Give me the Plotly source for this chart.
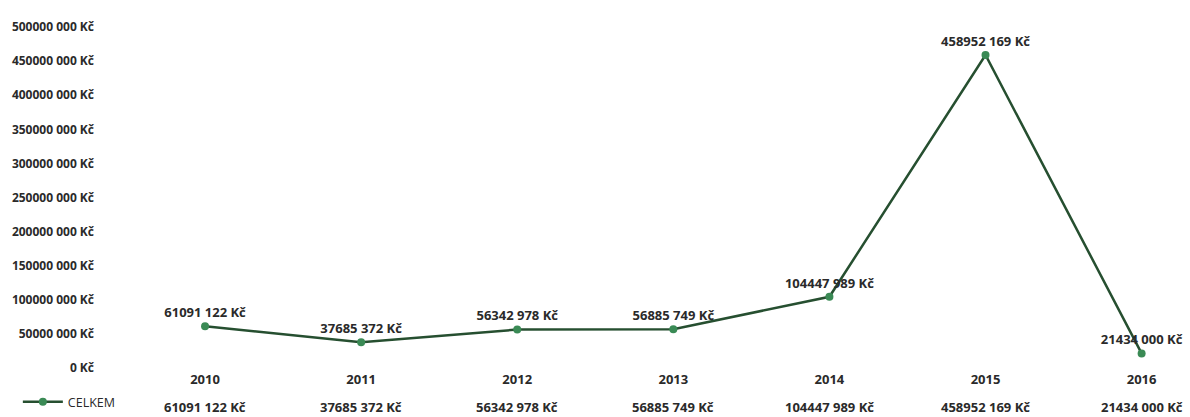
import plotly.graph_objects as go

years = ["2010", "2011", "2012", "2013", "2014", "2015", "2016"]
values = [61091122, 37685372, 56342978, 56885749, 104447989, 458952169, 21434000]
value_labels = ["61091 122 Kč", "37685 372 Kč", "56342 978 Kč", "56885 749 Kč",
                "104447 989 Kč", "458952 169 Kč", "21434 000 Kč"]
y_ticks = [0, 50e6, 100e6, 150e6, 200e6, 250e6, 300e6, 350e6, 400e6, 450e6, 500e6]
y_tick_labels = ["0 Kč", "50000 000 Kč", "100000 000 Kč", "150000 000 Kč", "200000 000 Kč",
                 "250000 000 Kč", "300000 000 Kč", "350000 000 Kč", "400000 000 Kč",
                 "450000 000 Kč", "500000 000 Kč"]
series_name = "CELKEM"

FONT = "Open Sans"
TXT = "#2a2a2a"

fig = go.Figure()
fig.add_trace(go.Scatter(
    x=list(range(len(years))), y=values, name=series_name,
    mode="lines+markers+text",
    line=dict(color="#264f30", width=2.5),
    marker=dict(color="#3a8a55", size=8),
    text=value_labels, textposition="top center",
    textfont=dict(family=FONT, size=13, color=TXT, weight="bold"),
    cliponaxis=False,
))

for i, lab in enumerate(value_labels):
    fig.add_annotation(x=i, xref="x", y=0, yref="paper", yanchor="middle",
                       yshift=-39, text=lab, showarrow=False,
                       font=dict(family=FONT, size=13, color=TXT, weight="bold"))

fig.update_layout(
    width=1190, height=417,
    margin=dict(l=127, r=0, t=27, b=49),
    paper_bgcolor="white", plot_bgcolor="white",
    showlegend=True,
    legend=dict(x=0.015, xref="container", y=0.0, yref="container",
                yanchor="bottom", xanchor="left",
                font=dict(family=FONT, size=12.5, color=TXT),
                bgcolor="rgba(0,0,0,0)", itemwidth=40,
                traceorder="normal"),
    xaxis=dict(range=[-0.5, 6.31], tickmode="array",
               tickvals=list(range(len(years))), ticktext=years,
               showgrid=False, zeroline=False, showline=False, ticks="",
               tickfont=dict(family=FONT, size=13, color=TXT, weight="bold"),
               ticklabelstandoff=2, automargin=False),
    yaxis=dict(range=[0, 500e6], tickmode="array", tickvals=y_ticks,
               ticktext=y_tick_labels, showgrid=False, zeroline=False,
               showline=False, ticks="",
               tickfont=dict(family=FONT, size=12, color=TXT, weight="bold"),
               ticklabelstandoff=32, automargin=False),
)

fig.write_html("out.html", config={"displayModeBar": False},
               post_script="document.body.style.margin='0';document.body.style.padding='0';")
